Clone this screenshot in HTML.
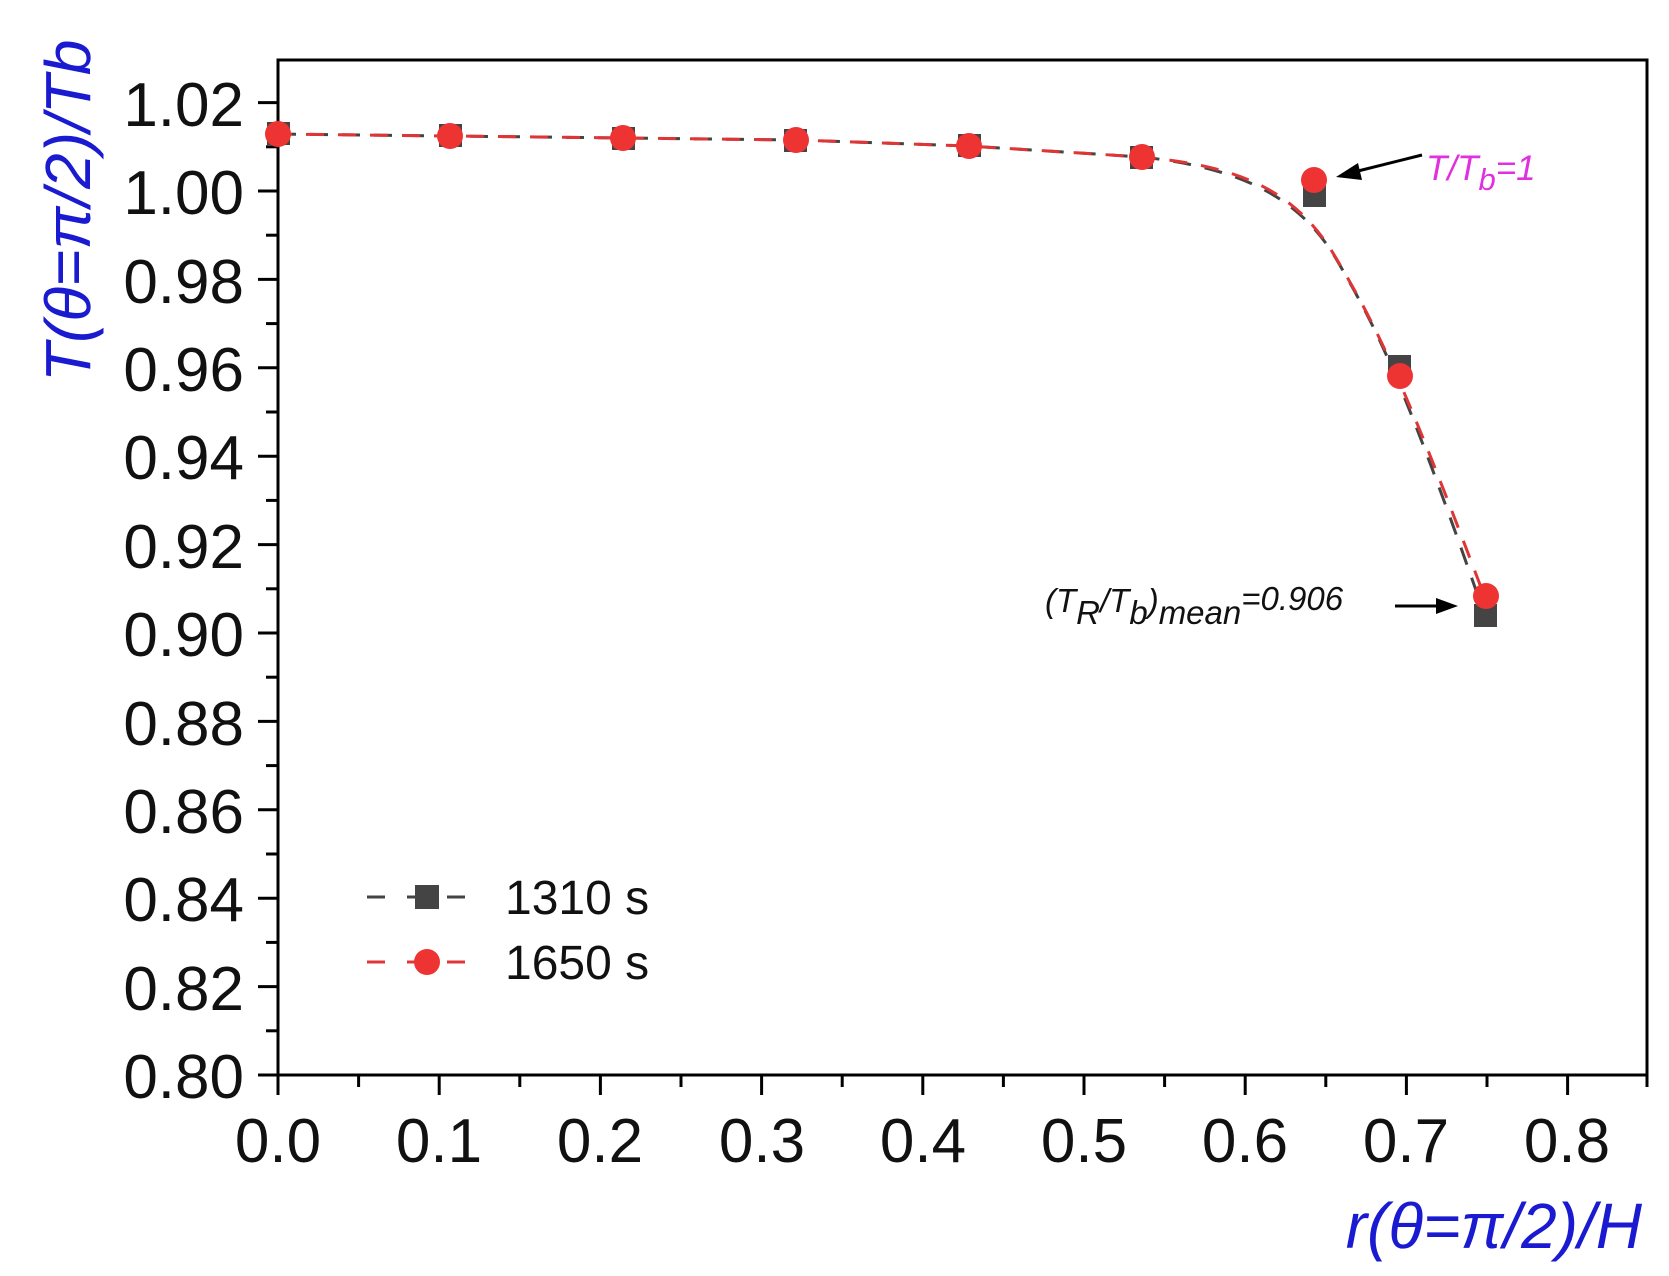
<!DOCTYPE html>
<html><head><meta charset="utf-8"><style>
html,body{margin:0;padding:0;background:#fff;}
svg{display:block;}
text{font-family:"Liberation Sans",Arial,sans-serif;}
</style></head><body>
<svg width="1669" height="1276" viewBox="0 0 1669 1276" xmlns="http://www.w3.org/2000/svg">
<rect width="1669" height="1276" fill="#fff"/>
<rect x="278" y="60" width="1369" height="1015" fill="none" stroke="#000" stroke-width="3"/>
<g stroke="#000" stroke-width="3">
<line x1="258" y1="1075" x2="278" y2="1075"/><line x1="266" y1="1030.8" x2="278" y2="1030.8"/>
<line x1="258" y1="986.6" x2="278" y2="986.6"/><line x1="266" y1="942.4" x2="278" y2="942.4"/>
<line x1="258" y1="898.2" x2="278" y2="898.2"/><line x1="266" y1="854" x2="278" y2="854"/>
<line x1="258" y1="809.8" x2="278" y2="809.8"/><line x1="266" y1="765.6" x2="278" y2="765.6"/>
<line x1="258" y1="721.4" x2="278" y2="721.4"/><line x1="266" y1="677.2" x2="278" y2="677.2"/>
<line x1="258" y1="633" x2="278" y2="633"/><line x1="266" y1="588.8" x2="278" y2="588.8"/>
<line x1="258" y1="544.6" x2="278" y2="544.6"/><line x1="266" y1="500.4" x2="278" y2="500.4"/>
<line x1="258" y1="456.2" x2="278" y2="456.2"/><line x1="266" y1="412" x2="278" y2="412"/>
<line x1="258" y1="367.8" x2="278" y2="367.8"/><line x1="266" y1="323.6" x2="278" y2="323.6"/>
<line x1="258" y1="279.4" x2="278" y2="279.4"/><line x1="266" y1="235.2" x2="278" y2="235.2"/>
<line x1="258" y1="191" x2="278" y2="191"/><line x1="266" y1="146.8" x2="278" y2="146.8"/>
<line x1="258" y1="102.6" x2="278" y2="102.6"/>
</g>
<g stroke="#000" stroke-width="3">
<line x1="278" y1="1075" x2="278" y2="1095"/><line x1="358.6" y1="1075" x2="358.6" y2="1087"/>
<line x1="439.2" y1="1075" x2="439.2" y2="1095"/><line x1="519.8" y1="1075" x2="519.8" y2="1087"/>
<line x1="600.4" y1="1075" x2="600.4" y2="1095"/><line x1="681" y1="1075" x2="681" y2="1087"/>
<line x1="761.6" y1="1075" x2="761.6" y2="1095"/><line x1="842.2" y1="1075" x2="842.2" y2="1087"/>
<line x1="922.8" y1="1075" x2="922.8" y2="1095"/><line x1="1003.4" y1="1075" x2="1003.4" y2="1087"/>
<line x1="1084" y1="1075" x2="1084" y2="1095"/><line x1="1164.6" y1="1075" x2="1164.6" y2="1087"/>
<line x1="1245.2" y1="1075" x2="1245.2" y2="1095"/><line x1="1325.8" y1="1075" x2="1325.8" y2="1087"/>
<line x1="1406.4" y1="1075" x2="1406.4" y2="1095"/><line x1="1487" y1="1075" x2="1487" y2="1087"/>
<line x1="1567.6" y1="1075" x2="1567.6" y2="1095"/><line x1="1647" y1="1075" x2="1647" y2="1087"/>
</g>
<g font-size="62" fill="#111" text-anchor="end">
<text x="244" y="1098">0.80</text><text x="244" y="1010">0.82</text><text x="244" y="921">0.84</text>
<text x="244" y="833">0.86</text><text x="244" y="745">0.88</text><text x="244" y="656">0.90</text>
<text x="244" y="568">0.92</text><text x="244" y="479">0.94</text><text x="244" y="391">0.96</text>
<text x="244" y="303">0.98</text><text x="244" y="214">1.00</text><text x="244" y="126">1.02</text>
</g>
<g font-size="62" fill="#111" text-anchor="middle">
<text x="278" y="1162">0.0</text><text x="439" y="1162">0.1</text><text x="600" y="1162">0.2</text>
<text x="762" y="1162">0.3</text><text x="923" y="1162">0.4</text><text x="1084" y="1162">0.5</text>
<text x="1245" y="1162">0.6</text><text x="1406" y="1162">0.7</text><text x="1567" y="1162">0.8</text>
</g>
<text transform="translate(90,382) rotate(-90)" font-size="64" font-style="italic" fill="#1a1ad0">T(θ=π/2)/Tb</text>
<text x="1642" y="1248" font-size="64" font-style="italic" fill="#1a1ad0" text-anchor="end">r(θ=π/2)/H</text>
<path d="M278,134 L450,136 L623,138 L796,140 L969,146 L1142,157 C1240,168 1300,196 1338,262 S1400,372 1485,616" fill="none" stroke="#444" stroke-width="3" stroke-dasharray="18,14"/>
<path d="M278,134 L450,136 L623,138 L796,140 L969,146 L1142,157 C1240,166 1296,190 1336,258 S1400,372 1485,598" fill="none" stroke="#e03535" stroke-width="3" stroke-dasharray="18,14" stroke-dashoffset="4"/>
<g fill="#444">
<rect x="267" y="122" width="23" height="23"/><rect x="439" y="124" width="23" height="23"/>
<rect x="612" y="127" width="23" height="23"/><rect x="784" y="129" width="23" height="23"/>
<rect x="958" y="134" width="23" height="23"/><rect x="1130" y="146" width="23" height="23"/>
<rect x="1303" y="184" width="23" height="23"/><rect x="1388" y="355" width="23" height="23"/>
<rect x="1474" y="604" width="23" height="23"/>
</g>
<g fill="#ee3333">
<circle cx="278" cy="134" r="13"/><circle cx="450" cy="136" r="13"/><circle cx="623" cy="138" r="13"/>
<circle cx="796" cy="140" r="13"/><circle cx="969" cy="146" r="13"/><circle cx="1142" cy="157" r="13"/>
<circle cx="1314" cy="180" r="13"/><circle cx="1400" cy="376" r="13"/><circle cx="1486" cy="596" r="13"/>
</g>
<line x1="1422" y1="155" x2="1350" y2="173" stroke="#000" stroke-width="3"/>
<polygon points="1336,177 1358,163 1362,180" fill="#000"/>
<text x="1426" y="180" font-size="35" font-style="italic" fill="#e030e0">T/T<tspan font-size="31" dy="10">b</tspan><tspan dy="-10">=1</tspan></text>
<text x="1045" y="612" font-size="33" font-style="italic" fill="#111">(T<tspan dy="12">R</tspan><tspan dy="-12">/T</tspan><tspan dy="12">b</tspan><tspan dy="-12">)</tspan><tspan dy="12">mean</tspan><tspan dy="-14">=0.906</tspan></text>
<line x1="1395" y1="606" x2="1440" y2="606" stroke="#000" stroke-width="3"/>
<polygon points="1458,606 1436,598 1436,614" fill="#000"/>
<line x1="367" y1="897" x2="468" y2="897" stroke="#444" stroke-width="3" stroke-dasharray="18,22"/>
<rect x="415" y="885" width="24" height="24" fill="#444"/>
<text x="505" y="914" font-size="48" fill="#111">1310 s</text>
<line x1="367" y1="962" x2="468" y2="962" stroke="#e03535" stroke-width="3" stroke-dasharray="18,22"/>
<circle cx="427" cy="962" r="13" fill="#ee3333"/>
<text x="505" y="979" font-size="48" fill="#111">1650 s</text>
</svg>
</body></html>
